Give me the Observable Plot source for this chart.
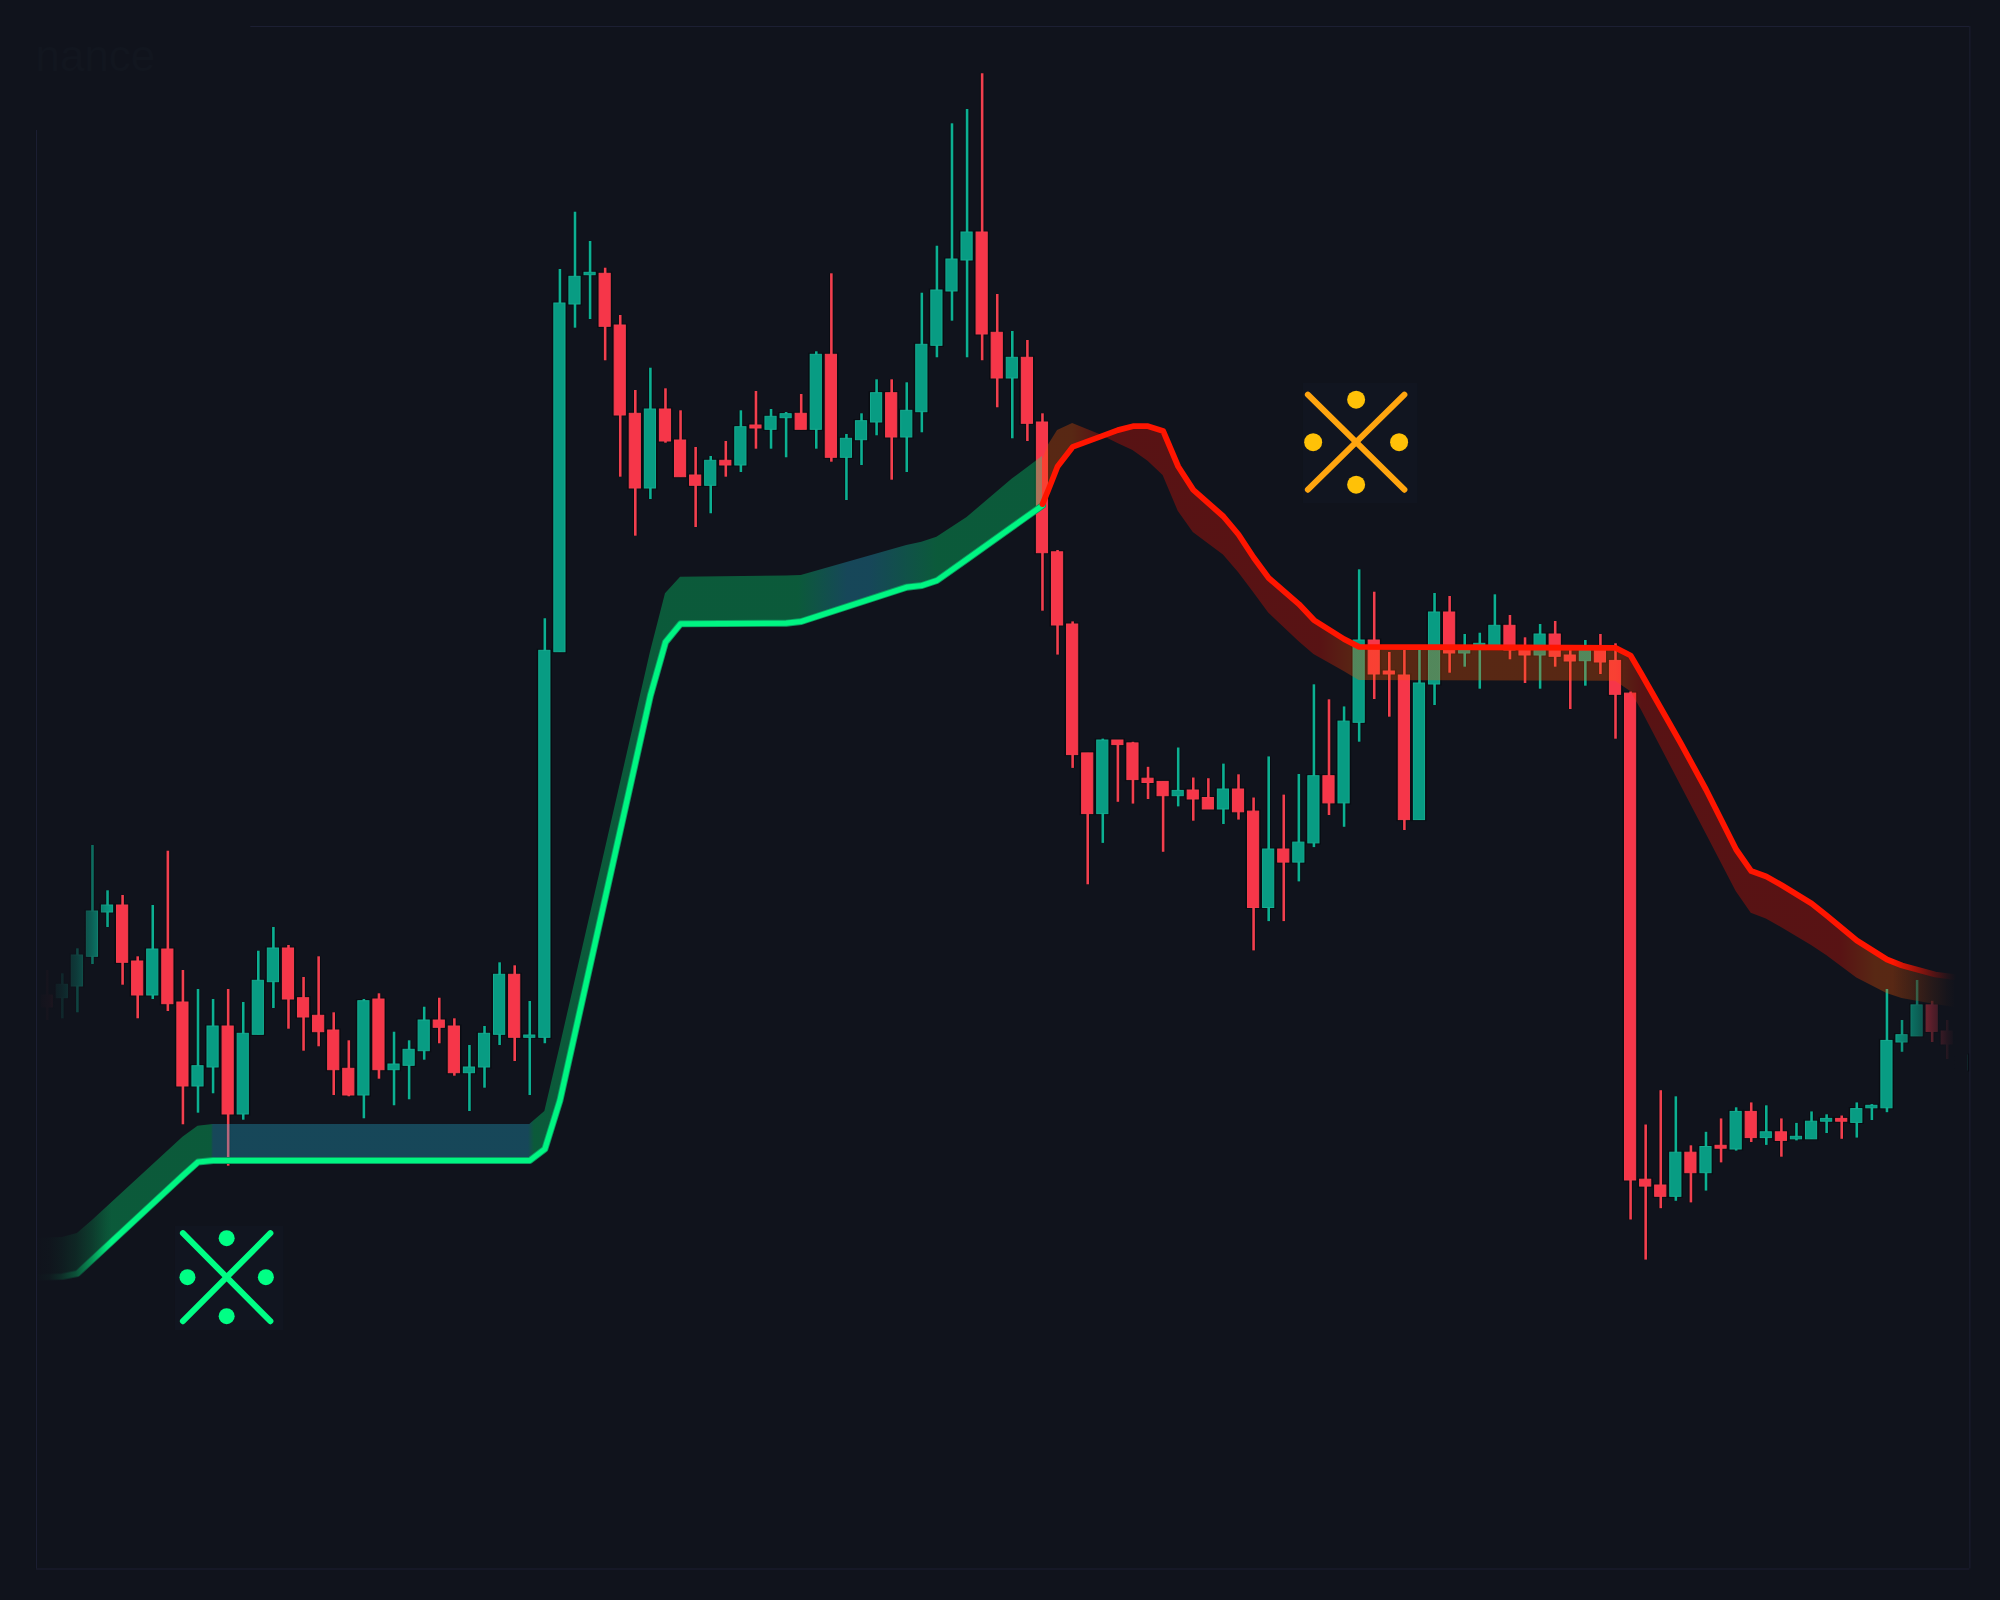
<!DOCTYPE html>
<html>
<head>
<meta charset="utf-8">
<style>html,body{margin:0;padding:0;background:#10131c;overflow:hidden}svg{display:block}</style>
<script src="https://cdn.jsdelivr.net/npm/d3@7"></script>
<script src="https://cdn.jsdelivr.net/npm/@observablehq/plot@0.6"></script>
</head>
<body>
<div id="chart"></div>
<script>
const high = [
630,626.7,651.7,755,709.7,705,643.7,695,749.3,630,
611,601,611,598,649.3,673,655,623,643.7,587.7,
559.7,601,606.7,568.3,559.7,593.3,602.3,581.7,555,574,
637.7,634.7,599,981.7,1331,1388.3,1359,1332.3,1285,1210,
1232.3,1211.7,1189.7,1153,1144,1159,1189.7,1209,1191,1188,
1206,1248.7,1326.7,1166,1186.7,1220.7,1220.7,1217.7,1307.3,1354.3,
1476.7,1491,1526.7,1306,1269,1260,1186.7,1050,978.6,847.1,
861.4,860,858.2,833.2,818.6,852.5,822.5,821.8,836.4,825.7,
802.5,843.6,805.4,826,915.7,900.7,893.6,1030.7,1008.3,948,
950,950,1007,1004,966,967.3,1005.7,985,962.7,976,
979,950.7,960,966,956.7,908.6,475.5,509.8,503.7,454.7,
468.2,481.6,492.7,497.6,494.7,481.6,477.1,488.6,485.7,484.5,
497.6,495.9,611,580,620,599.2,580,560];
const low = [
580,581.7,587.7,636,673,615.3,581.7,601,589,475.7,
487.3,506.7,434.3,480.3,565.7,592,571.3,549.3,553.7,505,
503.7,481.7,521.3,494.7,500.7,540.3,556.7,524.3,489,512.3,
555,539,505,556.7,948.3,1272.3,1281,1239.7,1123.3,1064.3,
1101,1157.3,1123.3,1073,1086.7,1123.3,1128,1151.3,1151.3,1142.7,
1170.7,1151.3,1138.3,1100,1135,1164.7,1120.3,1128,1167.7,1242.7,
1279.3,1242.7,1239.7,1192.7,1161.7,1159,989.3,945.4,832.1,715.7,
757.1,798.2,796.4,801,748.2,793.6,779.3,791,776,780.4,
649.6,678.9,678.9,718.6,752.9,785,773.2,858.3,901,883.3,
770,780.4,895,927.3,933.3,911.3,950,940.7,917,911.3,
933.3,891,914.3,926,861.3,380.4,340.4,391.8,399.2,397.6,
409.4,437.6,449.4,458,455.1,443.3,459.6,461.2,467,461.2,
462.4,480,487.8,548.2,564.1,558,541,520];
const open = [
605,602.3,614,643.7,688,695,639,605,651,598,
514,533,574,486,565.7,618.3,652,602.3,584.7,570,
531.7,505,601,530.3,534.7,549.3,580,574,527.3,533,
565.7,625.7,562.7,562.7,948.3,1296,1325.3,1326.7,1275,1186.7,
1112,1191,1160,1125,1114.7,1139.7,1135,1175,1170.7,1182.3,
1186.7,1170.7,1245.7,1142.7,1160.3,1178,1207.3,1163,1188.3,1254.7,
1309,1340,1368,1267.7,1222,1242.7,1178,1048.2,976,847.1,
786.4,860,857.1,821.8,818.6,804.3,810,802.5,791,811,
788.9,692.5,751,737.9,757.1,824.3,797.1,877.7,960,929,
925,780.4,916,988,947,955.3,950.7,974.7,950,945,
966,945,939.3,950,939.6,906.9,420.8,415,403.7,447.8,
427.3,454.7,451,488.6,462.4,468.2,461.2,461.2,478.8,481.6,
477.6,492.2,492.2,558,564.1,595.1,569,530];
const close = [
593,615.7,645,689,695,637.7,605,651,596.3,514,
534.3,574,486,566.7,619.7,652,601,583,568.3,530.3,
505,599.3,530.3,536,550.7,580,572.7,527.3,533,566.7,
625.7,562.7,565,949.7,1297,1323.7,1327.7,1273.7,1185,1112,
1191,1159,1123.3,1114.7,1139.7,1135,1173.3,1172,1183.7,1186.3,
1170.7,1245.7,1142.7,1161.7,1179.3,1207.3,1163,1189.7,1255.7,1310,
1341,1368,1266,1222,1242.7,1176.7,1047.3,975,845.4,786.4,
860,855.4,820.4,817.5,804.3,809.6,801,791,811,788.2,
692.5,751,737.9,757.9,824.3,797.1,878.9,960,926,926,
780.4,917,988,947,950,956.7,974.7,950,945,966,
943.7,939,950,938,905.7,420,413.9,403.7,447.8,427.3,
453.5,451.8,488.6,462.4,468.2,459.6,463.7,478.8,481.6,478.8,
491.4,494.7,559.6,565.3,595.1,568.6,556,545];

const greenBar  = [-0.7,0,1,2,3,9,10,11,32,33,34,40,41,42,49,50,57,58,59,61,64,66];
const greenLine = [323.3,323.5,324,327,341,425,438.5,440,440,451.5,500,905,958.3,976.7,977.3,979,1013.3,1015,1020,1041.4,1073.6,1095];
const greenEdge = [362,362.5,363,367,380,463.3,474.3,476,476,489,553,948,1006.7,1023.3,1024.5,1025,1055,1058.3,1063.3,1083,1121.5,1144];

const redBar  = [66,66.4,67,68,69.8,71,72,73,74,75,76,78,79,80,81,83,84,86,87,104,105,105.7,108.3,110,112,113,114,115,117,118,120,122,123,125.2,126.5];
const redLine = [1096.4,1111,1134,1153.6,1163.6,1170.4,1174.3,1174.3,1169.6,1134,1110.7,1084,1066,1043,1022.5,996.4,980.4,961.4,953.6,952.7,945,927,858,811,751,729.4,724,715.5,697,685,660,641,635,626,623.3];
const redEdge = [1140,1155.4,1170,1177,1166,1157,1150,1139.3,1125,1089.3,1068,1045.4,1028,1008,987.5,959,946,929,920,919.3,909,891,816,767,709,687.3,681.6,673,655,645,622.4,607,602,596,593];

// Signal crosses: centre in bars / price units, with arm and dot reach in the same units
const buySignal  = {bar: 11.9, price: 323.3, armBar: 2.9, armPrice: 44, dotBar: 2.6, dotPrice: 39, r: 8, color: "#00ff85", dot: "#00ff85"};
const sellSignal = {bar: 86.8, price: 1158.3, armBar: 3.2, armPrice: 47.5, dotBar: 2.85, dotPrice: 42.5, r: 9, color: "#ffa50f", dot: "#ffc107"};
const signalHalos = [
  {x1: 8.5, x2: 15.7, y1: 270, y2: 374},
  {x1: 83.3, x2: 90.9, y1: 1097, y2: 1217}
];

const watermark = ["nance"];
const BG = "#10131c";
const GREEN_BODY = "#089c83", GREEN_WICK = "#0cb092", RED_BODY = "#f63649", RED_WICK = "#f23f4e";

const candles = high.map((h, i) => ({i, high: h, low: low[i], open: open[i], close: close[i], up: close[i] >= open[i]}));
const greenRows = greenBar.map((b, k) => ({b, line: greenLine[k], edge: greenEdge[k]}));
const redRows = redBar.map((b, k) => ({b, line: redLine[k], edge: redEdge[k]}));

function stops(el, id, list) {
  const g = el.append("linearGradient").attr("id", id).attr("gradientUnits", "userSpaceOnUse")
    .attr("x1", 0).attr("x2", 2000).attr("y1", 0).attr("y2", 0);
  list.forEach(([px, c]) => g.append("stop").attr("offset", px / 2000).attr("stop-color", c));
}
function fade(el, id, list) {
  const g = el.append("linearGradient").attr("id", id);
  list.forEach(([o, a]) => g.append("stop").attr("offset", o).attr("stop-color", BG).attr("stop-opacity", a));
}
function defs() {
  const d = d3.create("svg:defs");
  const gr = "#00ff80", bl = "#26bfe6", rd = "#ff1200", br = "#ff5800";
  stops(d, "bandGreen", [[36,gr],[211,gr],[213,bl],[528,bl],[534,gr],[798,gr],[847,bl],[870,bl],[937,gr],[1045,gr]]);
  stops(d, "bandRed", [[1041,br],[1072,br],[1100,rd],[1320,rd],[1358,br],[1615,br],[1642,rd],[1840,rd],[1875,br],[1960,br]]);
  fade(d, "fadeL", [[0,1],[0.06,1],[0.23,0.97],[0.38,0.88],[0.56,0.72],[0.75,0.45],[0.93,0.1],[1,0]]);
  fade(d, "fadeR", [[0,0],[0.11,0.15],[0.31,0.4],[0.53,0.7],[0.73,0.92],[0.84,1],[1,1]]);
  return d.node();
}
function signalMarks(s) {
  const arms = [
    {x1: s.bar - s.armBar, x2: s.bar + s.armBar, y1: s.price + s.armPrice, y2: s.price - s.armPrice},
    {x1: s.bar - s.armBar, x2: s.bar + s.armBar, y1: s.price - s.armPrice, y2: s.price + s.armPrice}
  ];
  const dots = [
    {x: s.bar, y: s.price + s.dotPrice}, {x: s.bar, y: s.price - s.dotPrice},
    {x: s.bar - s.dotBar, y: s.price}, {x: s.bar + s.dotBar, y: s.price}
  ];
  return [
    Plot.link(arms, {x1: "x1", x2: "x2", y1: "y1", y2: "y2", stroke: s.color, strokeWidth: 6, strokeLinecap: "round"}),
    Plot.dot(dots, {x: "x", y: "y", r: s.r, fill: s.dot, stroke: "none"})
  ];
}
const fadeRects = {
  left: [{x1: -1.05, x2: 4.3, y1: 280, y2: 840}],
  right: [{x1: 122.4, x2: 127.4, y1: 480, y2: 720}]
};
const frameH = [{y: 1574, x1: 13.5, x2: 127.5}, {y: 31.5, x1: -0.71, x2: 127.5}];
const frameV = [{x: -0.71, y1: 31.5, y2: 1470}, {x: 127.5, y1: 31.5, y2: 1574}];
const frameColor = "#1c1f33";

const chart = Plot.plot({
  width: 2000, height: 1600, margin: 0,
  x: {domain: [-3.097, 129.53], range: [0, 2000], axis: null},
  y: {domain: [0, 1600], range: [1600, 0], axis: null},
  style: {background: BG},
  marks: [
    defs,
    Plot.text(watermark, {x: () => -0.78, y: () => 1530, text: d => d, textAnchor: "start", lineAnchor: "bottom", fontSize: 44, fontFamily: "Liberation Sans", fill: "#12161f"}),
    Plot.rect(signalHalos, {x1: "x1", x2: "x2", y1: "y1", y2: "y2", fill: "#111520"}),
    // halos under candles
    Plot.ruleX(candles, {x: "i", y1: "low", y2: "high", stroke: "#090c12", strokeWidth: 4.5}),
    Plot.rect(candles, {x1: d => d.i - 0.4, x2: d => d.i + 0.4, y1: "open", y2: "close", fill: "#090c12", stroke: "#090c12", strokeWidth: 3}),
    // wicks and bodies
    Plot.ruleX(candles, {x: "i", y1: "low", y2: "high", stroke: d => d.up ? GREEN_WICK : RED_WICK, strokeWidth: 2.6}),
    Plot.rect(candles, {x1: d => d.i - 0.37, x2: d => d.i + 0.37, y1: "open", y2: "close", fill: d => d.up ? GREEN_BODY : RED_BODY, stroke: d => d.up ? "#14ad91" : "#f23f4e", strokeWidth: 1}),
    // bands
    Plot.area(greenRows, {x1: "b", y1: "line", x2: "b", y2: "edge", fill: "url(#bandGreen)", fillOpacity: 0.3}),
    Plot.area(redRows, {x1: "b", y1: "line", x2: "b", y2: "edge", fill: "url(#bandRed)", fillOpacity: 0.3}),
    // trend lines
    Plot.line(greenRows, {x: "b", y: "line", stroke: "#0a9c60", strokeWidth: 7, strokeLinejoin: "round"}),
    Plot.line(greenRows, {x: "b", y: "line", stroke: "#00f582", strokeWidth: 5.2, strokeLinejoin: "round"}),
    Plot.line(redRows, {x: "b", y: "line", stroke: "#ff1500", strokeWidth: 5.8, strokeLinejoin: "round"}),
    // fading edges
    Plot.rect(fadeRects.left, {x1: "x1", x2: "x2", y1: "y1", y2: "y2", fill: "url(#fadeL)"}),
    Plot.rect(fadeRects.right, {x1: "x1", x2: "x2", y1: "y1", y2: "y2", fill: "url(#fadeR)"}),
    // signals
    ...signalMarks(buySignal),
    ...signalMarks(sellSignal),
    // frame
    Plot.ruleY(frameH, {y: "y", x1: "x1", x2: "x2", stroke: frameColor}),
    Plot.ruleX(frameV, {x: "x", y1: "y1", y2: "y2", stroke: frameColor})
  ]
});
document.getElementById("chart").append(chart);
</script>
</body>
</html>
